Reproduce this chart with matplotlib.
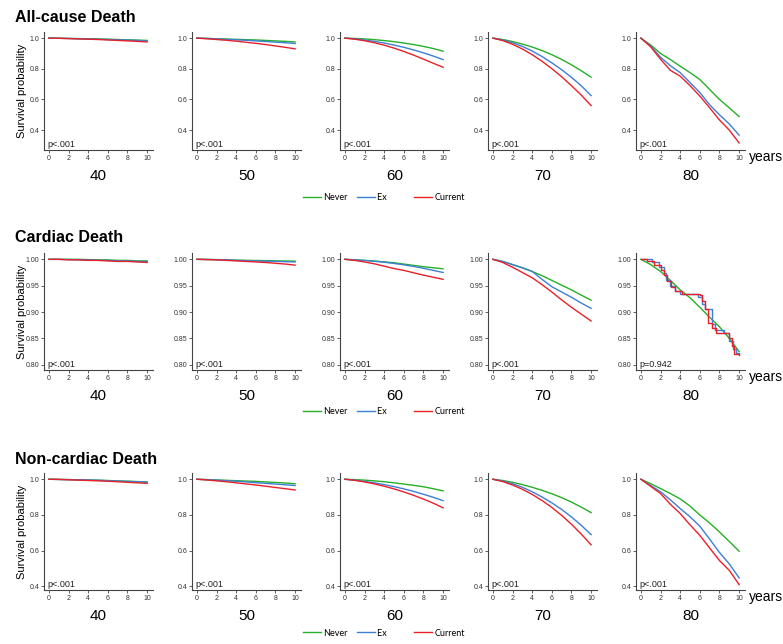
import matplotlib.pyplot as plt
from matplotlib.lines import Line2D

YEARS = list(range(11))
AGES = [40, 50, 60, 70, 80]
GROUPS = ['Never', 'Ex', 'Current']
COLORS = {'Never': '#25b025', 'Ex': '#3d7fd6', 'Current': '#e8202a'}

# survival by year 0..10, one list per age group (40, 50, 60, 70, 80)
ALLCAUSE_NEVER = [
    [1, .999, .998, .997, .996, .995, .993, .991, .989, .987, .985],
    [1, .998, .996, .994, .992, .990, .988, .985, .982, .979, .975],
    [1, .998, .995, .990, .984, .977, .968, .958, .946, .932, .915],
    [1, .991, .978, .961, .942, .919, .892, .861, .826, .787, .745],
    [1, .955, .900, .860, .817, .775, .730, .665, .600, .545, .488],
]
ALLCAUSE_EX = [
    [1, .999, .998, .996, .995, .993, .991, .989, .987, .985, .982],
    [1, .998, .995, .992, .989, .986, .982, .978, .974, .970, .965],
    [1, .995, .988, .979, .968, .955, .940, .923, .904, .883, .860],
    [1, .988, .970, .946, .916, .880, .839, .794, .744, .689, .625],
    [1, .948, .875, .820, .775, .710, .645, .565, .500, .440, .367],
]
ALLCAUSE_CURRENT = [
    [1, .999, .997, .995, .993, .991, .988, .985, .982, .979, .975],
    [1, .996, .991, .986, .980, .973, .966, .958, .949, .940, .930],
    [1, .993, .983, .970, .954, .935, .913, .889, .863, .836, .810],
    [1, .984, .960, .929, .892, .849, .801, .748, .690, .628, .560],
    [1, .943, .862, .790, .752, .690, .622, .545, .466, .400, .316],
]

CARDIAC_NEVER = [
    [1, 1, 1, 1, .9995, .999, .999, .998, .998, .997, .997],
    [1, .9998, .9995, .999, .9985, .998, .9978, .9975, .997, .9968, .9965],
    [1, .9992, .998, .9968, .9952, .9935, .991, .9885, .986, .984, .982],
    [1, .996, .990, .984, .977, .969, .960, .951, .942, .932, .9225],
    [1, .990, .977, .960, .942, .927, .909, .890, .872, .850, .825],
]
CARDIAC_EX = [
    [1, 1, .9995, .999, .999, .998, .998, .997, .997, .996, .996],
    [1, .9997, .9993, .9988, .998, .9975, .997, .9965, .996, .9955, .995],
    [1, .999, .9978, .9962, .9945, .9922, .9895, .9865, .983, .979, .975],
    [1, .996, .990, .984, .977, .962, .948, .938, .928, .917, .907],
    None,
]
CARDIAC_CURRENT = [
    [1, 1, .999, .999, .998, .998, .997, .996, .996, .995, .994],
    [1, .9995, .999, .998, .997, .996, .995, .994, .9925, .991, .989],
    [1, .998, .995, .9915, .987, .9825, .979, .9745, .970, .966, .962],
    [1, .994, .985, .975, .965, .952, .938, .923, .909, .896, .883],
    None,
]
# age 80 cardiac: Kaplan-Meier steps
CARDIAC80_EX_T = [0, 1.1, 1.8, 2.4, 2.6, 3.0, 3.5, 4.0, 5.8, 6.2, 6.5, 7.2, 7.5, 8.5, 9.0, 9.4, 9.7, 10]
CARDIAC80_EX_S = [1, .995, .985, .975, .960, .950, .940, .935, .928, .915, .905, .878, .865, .860, .845, .830, .823, .823]
CARDIAC80_CUR_T = [0, 0.6, 1.3, 2.0, 2.4, 2.7, 3.1, 3.5, 4.2, 6.0, 6.2, 6.5, 6.8, 7.2, 7.6, 8.8, 9.0, 9.3, 9.5, 10]
CARDIAC80_CUR_S = [1, .997, .990, .980, .970, .958, .948, .940, .935, .932, .920, .905, .880, .870, .860, .860, .850, .835, .820, .818]

NONCARDIAC_NEVER = [
    [1, .999, .998, .997, .996, .995, .993, .991, .989, .987, .985],
    [1, .998, .996, .994, .992, .990, .988, .985, .982, .979, .975],
    [1, .998, .995, .991, .986, .980, .973, .966, .958, .947, .935],
    [1, .993, .983, .970, .955, .938, .919, .897, .872, .844, .813],
    [1, .975, .948, .920, .890, .850, .800, .755, .705, .652, .597],
]
NONCARDIAC_EX = [
    [1, .999, .998, .997, .996, .994, .992, .990, .988, .986, .984],
    [1, .998, .995, .992, .989, .985, .981, .977, .973, .969, .965],
    [1, .995, .988, .980, .970, .959, .946, .932, .916, .899, .880],
    [1, .990, .975, .955, .930, .901, .868, .831, .789, .742, .690],
    [1, .965, .930, .885, .836, .790, .737, .665, .590, .526, .448],
]
NONCARDIAC_CURRENT = [
    [1, .999, .997, .995, .993, .991, .989, .986, .983, .980, .977],
    [1, .996, .991, .986, .980, .974, .968, .961, .954, .947, .940],
    [1, .994, .985, .974, .961, .946, .929, .910, .889, .866, .840],
    [1, .987, .968, .944, .915, .881, .842, .798, .748, .693, .633],
    [1, .960, .920, .860, .808, .745, .686, .615, .545, .490, .410],
]

ROWS = [
    ('All-cause Death', [ALLCAUSE_NEVER, ALLCAUSE_EX, ALLCAUSE_CURRENT],
     ['p<.001'] * 5, (0.27, 1.04), [0.4, 0.6, 0.8, 1.0], '%.1f'),
    ('Cardiac Death', [CARDIAC_NEVER, CARDIAC_EX, CARDIAC_CURRENT],
     ['p<.001'] * 4 + ['p=0.942'], (0.79, 1.012), [0.80, 0.85, 0.90, 0.95, 1.00], '%.2f'),
    ('Non-cardiac Death', [NONCARDIAC_NEVER, NONCARDIAC_EX, NONCARDIAC_CURRENT],
     ['p<.001'] * 5, (0.38, 1.035), [0.4, 0.6, 0.8, 1.0], '%.1f'),
]

W, H = 783, 644
LEFTS = [44, 192, 340, 488, 636]
AX_W = 109
ROW_TOP = [32, 253, 473]
ROW_BOT = [150, 370, 590]
TITLE_Y = [17, 238, 459]
LEGEND_Y = [198, 412, 633]

plt.rcParams['font.family'] = ['Liberation Sans', 'DejaVu Sans']

fig = plt.figure(figsize=(W / 100, H / 100), dpi=100)

for r, (title, series, pvals, ylim, yticks, fmt) in enumerate(ROWS):
    top, bot = ROW_TOP[r], ROW_BOT[r]
    fig.text(15 / W, 1 - TITLE_Y[r] / H, title, fontsize=11.5, fontweight='bold',
             ha='left', va='center')
    for c, age in enumerate(AGES):
        ax = fig.add_axes([LEFTS[c] / W, 1 - bot / H, AX_W / W, (bot - top) / H])
        for g, vals in zip(GROUPS, series):
            v = vals[c]
            if v is None:
                if g == 'Ex':
                    ax.plot(CARDIAC80_EX_T, CARDIAC80_EX_S, color=COLORS[g], lw=1.0,
                            drawstyle='steps-post')
                else:
                    ax.plot(CARDIAC80_CUR_T, CARDIAC80_CUR_S, color=COLORS[g], lw=1.0,
                            drawstyle='steps-post')
            else:
                ax.plot(YEARS, v, color=COLORS[g], lw=1.0)
        ax.set_xlim(-0.5, 10.6)
        ax.set_ylim(*ylim)
        ax.set_xticks([0, 2, 4, 6, 8, 10])
        ax.set_yticks(yticks)
        ax.set_yticklabels([fmt % t for t in yticks])
        for s in ['top', 'right']:
            ax.spines[s].set_visible(False)
        for s in ['left', 'bottom']:
            ax.spines[s].set_color('#444444')
            ax.spines[s].set_linewidth(0.8)
        ax.tick_params(length=2, width=0.6, labelsize=5, pad=1.5, colors='#444444',
                       labelcolor='#333333')
        ax.text(0.03, 0.005, pvals[c], transform=ax.transAxes, fontsize=6.5,
                ha='left', va='bottom', color='#222222')
        ax.text(0.5, -0.22, str(age), transform=ax.transAxes, fontsize=11,
                ha='center', va='center')
        if c == 0:
            ax.set_ylabel('Survival probability', fontsize=8)
            ax.yaxis.set_label_coords(-0.16, 0.5)
        if c == 4:
            ax.text(1.04, -0.06, 'years', transform=ax.transAxes, fontsize=10,
                    ha='left', va='center')
    handles = [Line2D([], [], color=COLORS[g], lw=1.0) for g in GROUPS]
    fig.legend(handles, ['Never', 'Ex        ', 'Current'], loc='center',
               bbox_to_anchor=(384 / W, 1 - LEGEND_Y[r] / H), ncol=3, frameon=False,
               handlelength=2.0, handletextpad=0.3, columnspacing=1.0,
               prop={'family': ['Lato', 'DejaVu Sans'], 'size': 6.5})

fig.savefig('out.png', dpi=100)
